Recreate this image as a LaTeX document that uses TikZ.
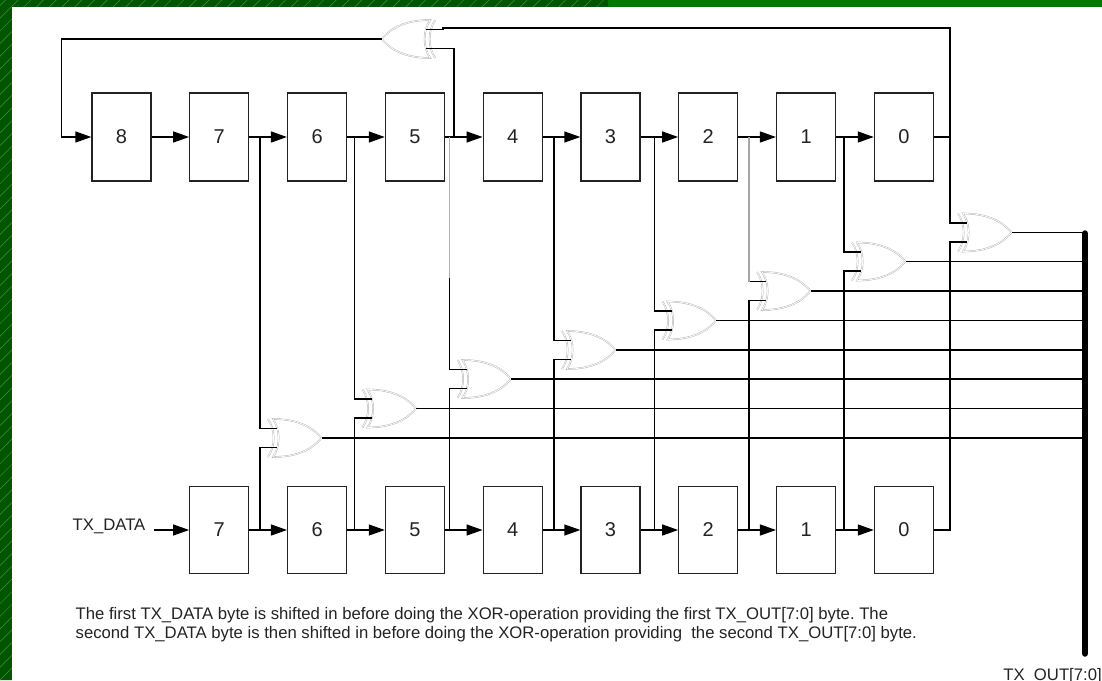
\documentclass[tikz,border=0pt]{standalone}
\usepackage{fontspec}
\setmainfont{Liberation Sans}
\usetikzlibrary{arrows.meta,patterns.meta}
\frenchspacing

\definecolor{frame}{RGB}{0,122,0}
\definecolor{framedark}{RGB}{0,86,0}
\definecolor{hatch}{RGB}{70,140,70}
\definecolor{ink}{RGB}{35,35,35}

\begin{document}
\begin{tikzpicture}[x=1pt, y=-1pt,
		line width=1.3pt,
		reg/.style={draw=ink, rectangle, minimum width=59pt, minimum height=88pt, inner sep=0pt, text=ink, font=\fontsize{20}{24}\selectfont},
		gate/.style={draw=black!30, double=white, double distance=0.7pt, line width=0.45pt},
		xorgate/.pic={
			\draw[gate] (-48.5,-19) .. controls (-24,-19) and (-9,-11) .. (0,0)
				.. controls (-9,11) and (-24,19) .. (-48.5,19)
				.. controls (-41,8) and (-41,-8) .. cycle;
			\draw[gate] (-53.5,19) .. controls (-46,8) and (-46,-8) .. (-53.5,-19);
			\coordinate (-in1) at (-44.5,-9.5);
			\coordinate (-in2) at (-44.5,9.5);
			\coordinate (-out) at (0,0);
		},
		feed/.style={-{Triangle[length=16pt, width=11pt]}},
		txt/.style={inner sep=0pt, text=ink, font=\fontsize{16.7}{19}\selectfont}]

	% background and frame
	\useasboundingbox (0,0) rectangle (1102,680);
	\fill[frame] (0,0) rectangle (1102,680);
	\fill[framedark] (0,0) rectangle (608,7) (0,0) rectangle (12,680);
	\fill[pattern={Lines[angle=45, distance=9pt, line width=0.5pt]}, pattern color=hatch] (0,0) rectangle (608,7) (0,7) rectangle (12,680);
	\fill[white] (12,7) rectangle (1102,680);

	% upper register
	\node[reg] (t8) at (121.5,137) {8};
	\node[reg] (t7) at (219.3,137) {7};
	\node[reg] (t6) at (317.1,137) {6};
	\node[reg] (t5) at (414.9,137) {5};
	\node[reg] (t4) at (512.7,137) {4};
	\node[reg] (t3) at (610.5,137) {3};
	\node[reg] (t2) at (708.3,137) {2};
	\node[reg] (t1) at (806.1,137) {1};
	\node[reg] (t0) at (903.9,137) {0};

	% lower register
	\node[reg, minimum height=87pt] (b7) at (219.3,530) {7};
	\node[reg, minimum height=87pt] (b6) at (317.1,530) {6};
	\node[reg, minimum height=87pt] (b5) at (414.9,530) {5};
	\node[reg, minimum height=87pt] (b4) at (512.7,530) {4};
	\node[reg, minimum height=87pt] (b3) at (610.5,530) {3};
	\node[reg, minimum height=87pt] (b2) at (708.3,530) {2};
	\node[reg, minimum height=87pt] (b1) at (806.1,530) {1};
	\node[reg, minimum height=87pt] (b0) at (903.9,530) {0};

	% taps
	\coordinate (a0) at (454,137);
	\coordinate (a1) at (260,137);   \coordinate (c1) at (260,530);
	\coordinate (a2) at (354.5,137); \coordinate (c2) at (354.5,530);
	\coordinate (a3) at (449.5,137); \coordinate (c3) at (449.5,530);
	\coordinate (a4) at (554,137);   \coordinate (c4) at (554,530);
	\coordinate (a5) at (654.5,137); \coordinate (c5) at (654.5,530);
	\coordinate (a6) at (749,137);   \coordinate (c6) at (749,530);
	\coordinate (a7) at (844,137);   \coordinate (c7) at (844,530);
	\coordinate (a8) at (950,137);   \coordinate (c8) at (950,530);

	% xor gates
	\pic[rotate=180] (g0) at (381.7,39) {xorgate};
	\pic (g1) at (321.5,438) {xorgate};
	\pic (g2) at (416,408.5) {xorgate};
	\pic (g3) at (511,379) {xorgate};
	\pic (g4) at (615.5,350) {xorgate};
	\pic (g5) at (716,320.5) {xorgate};
	\pic (g6) at (810.5,291) {xorgate};
	\pic (g7) at (905.5,261.5) {xorgate};
	\pic (g8) at (1011.5,232.5) {xorgate};

	% shifting
	\draw[feed] (t8) -- (t7);
	\draw[feed] (t7) -- (t6);
	\draw[feed] (t6) -- (t5);
	\draw[feed] (t5) -- (t4);
	\draw[feed] (t4) -- (t3);
	\draw[feed] (t3) -- (t2);
	\draw[feed] (t2) -- (t1);
	\draw[feed] (t1) -- (t0);
	\draw[feed] (b7) -- (b6);
	\draw[feed] (b6) -- (b5);
	\draw[feed] (b5) -- (b4);
	\draw[feed] (b4) -- (b3);
	\draw[feed] (b3) -- (b2);
	\draw[feed] (b2) -- (b1);
	\draw[feed] (b1) -- (b0);

	% feedback loop
	\coordinate (fl) at (61.5,39);
	\coordinate (k0) at (443,28);
	\draw[feed] (g0-out) -- (fl) |- (t8);
	\draw (t0) -- (a8) |- (k0) |- (g0-in2);
	\draw (a0) |- (g0-in1);

	% gate inputs
	\draw (a1) |- (g1-in1); \draw (c1) |- (g1-in2);
	\draw (a2) |- (g2-in1); \draw (c2) |- (g2-in2);
	\draw (a3) |- (g3-in1); \draw (c3) |- (g3-in2);
	\draw[black!30] (a3) -- ++(0,141);
	\draw (a4) |- (g4-in1); \draw (c4) |- (g4-in2);
	\draw (a5) |- (g5-in1); \draw (c5) |- (g5-in2);
	\draw (a6 |- g6-in1) -- (g6-in1); \draw (c6) |- (g6-in2);
	\draw[black!35] (a6) -- (a6 |- g6-in1);
	\draw (a7) |- (g7-in1); \draw (c7) |- (g7-in2);
	\draw (a8) |- (g8-in1); \draw (b0) -- (c8) |- (g8-in2);

	% output bus
	\coordinate (bus) at (1085,233.5);
	\coordinate (busend) at (1085,653.5);
	\draw (g1-out) -- (g1-out -| bus);
	\draw (g2-out) -- (g2-out -| bus);
	\draw (g3-out) -- (g3-out -| bus);
	\draw (g4-out) -- (g4-out -| bus);
	\draw (g5-out) -- (g5-out -| bus);
	\draw (g6-out) -- (g6-out -| bus);
	\draw (g7-out) -- (g7-out -| bus);
	\draw (g8-out) -- (g8-out -| bus);
	\draw[line width=6.5pt, line cap=round] (bus) -- (busend);

	% texts
	\node[txt, anchor=base east] (txd) at (146,530) {TX\_DATA};
	\draw[feed] ([xshift=8pt]txd.east |- b7.west) -- (b7.west);
	\node[txt, anchor=base west] (txo) at (1002.7,680.5) {TX\_OUT[7:0]};
	\node[txt, anchor=north west, align=left] (note) at (75,607) {The first TX\_DATA byte is shifted in before doing the XOR-operation providing the first TX\_OUT[7:0] byte. The\\second TX\_DATA byte is then shifted in before doing the XOR-operation providing~ the second TX\_OUT[7:0] byte.};

\end{tikzpicture}
\end{document}
